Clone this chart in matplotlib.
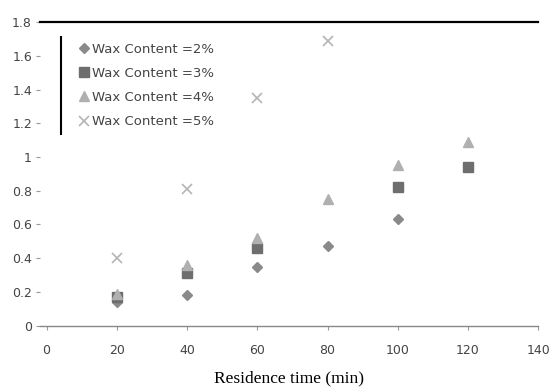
import matplotlib.pyplot as plt

# 停留时间 (min) 与各蜡含量下的测量值
time_2 = [20, 40, 60, 80, 100]
wax_2 = [0.14, 0.18, 0.35, 0.47, 0.63]
time_3 = [20, 40, 60, 100, 120]
wax_3 = [0.17, 0.31, 0.46, 0.82, 0.94]
time_4 = [20, 40, 60, 80, 100, 120]
wax_4 = [0.19, 0.36, 0.52, 0.75, 0.95, 1.09]
time_5 = [20, 40, 60, 80]
wax_5 = [0.40, 0.81, 1.35, 1.69]

x_ticks = [0, 20, 40, 60, 80, 100, 120, 140]
y_ticks = [0, 0.2, 0.4, 0.6, 0.8, 1, 1.2, 1.4, 1.6, 1.8]
y_labels = ['0', '0.2', '0.4', '0.6', '0.8', '1', '1.2', '1.4', '1.6', '1.8']

fig = plt.figure(figsize=(5.52, 3.89), dpi=100)
ax = fig.add_axes([0.073, 0.163, 0.902, 0.78])

ax.plot(time_2, wax_2, 'D', color='#8a8a8a', markersize=5.5, label='Wax Content =2%')
ax.plot(time_3, wax_3, 's', color='#6e6e6e', markersize=6.5, label='Wax Content =3%')
ax.plot(time_4, wax_4, '^', color='#b0b0b0', markersize=7, label='Wax Content =4%')
ax.plot(time_5, wax_5, 'x', color='#b4b4b4', markersize=6.5, markeredgewidth=1.2,
        label='Wax Content =5%')

ax.set_xlim(-1.8, 139.5)
ax.set_ylim(0, 1.8)
ax.set_xticks(x_ticks)
ax.set_yticks(y_ticks)
ax.set_yticklabels(y_labels)

# 上边框为黑色粗线，下边框为灰色细线
for side in ['left', 'right']:
    ax.spines[side].set_visible(False)
ax.spines['top'].set_color('black')
ax.spines['top'].set_linewidth(1.6)
ax.spines['bottom'].set_color('#888888')
ax.spines['bottom'].set_linewidth(1)

ax.tick_params(axis='y', length=3, width=0.8, color='#999999', pad=3,
               labelsize=9, labelcolor='#444444')
ax.tick_params(axis='x', length=3, width=0.8, color='#999999', pad=10,
               labelsize=9, labelcolor='#444444')

ax.set_xlabel('Residence time (min)', family='Liberation Serif', fontsize=12.5,
              labelpad=10)

leg = ax.legend(loc='upper left', bbox_to_anchor=(0.063, 0.95), frameon=False,
                fontsize=9.5, handletextpad=0.15, handlelength=1.0,
                labelspacing=0.85, borderaxespad=0)
for t in leg.get_texts():
    t.set_color('#444444')

# 图例左侧的竖线
ax.vlines(4.2, 1.13, 1.72, color='black', linewidth=1.5, clip_on=False)

fig.savefig('out.png', dpi=100)
